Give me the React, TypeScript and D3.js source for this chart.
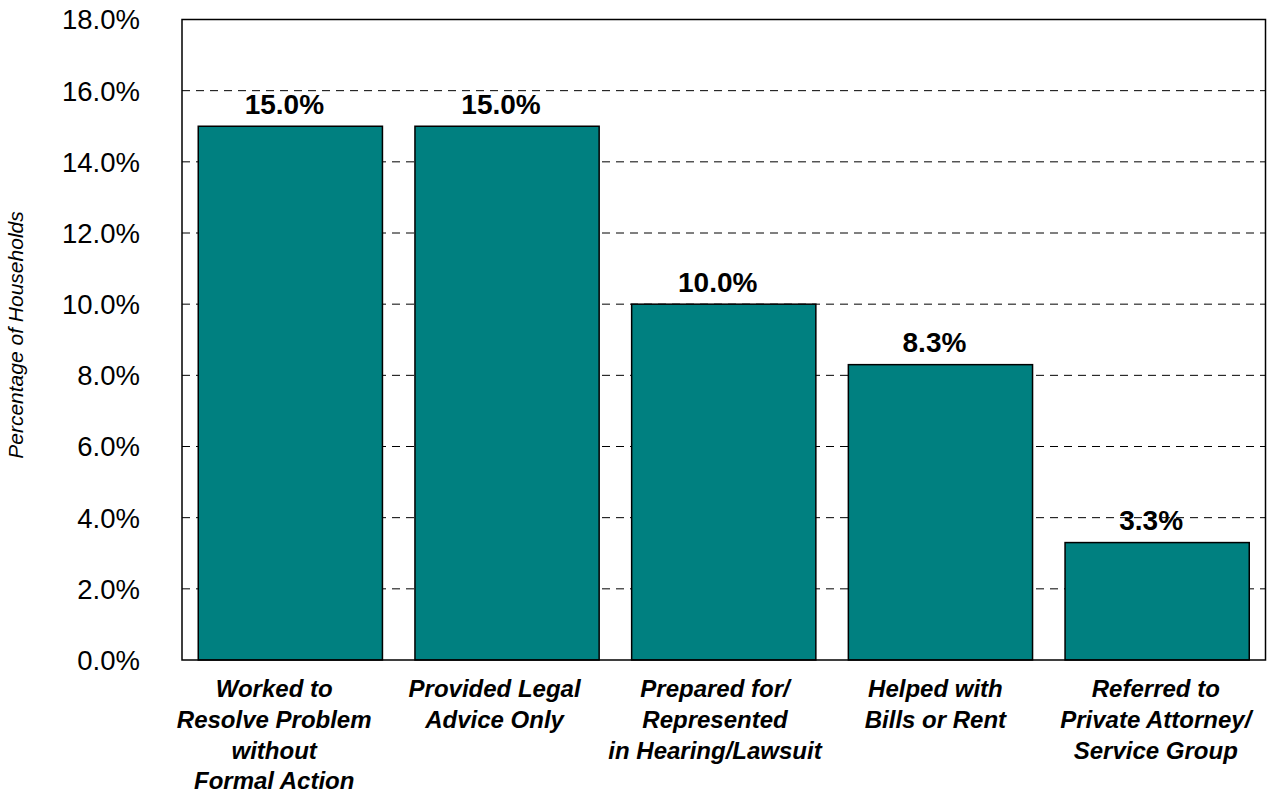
import React from "react";
import * as d3 from "d3";

const categories: string[][] = [
  ["Worked to", "Resolve Problem", "without", "Formal Action"],
  ["Provided Legal", "Advice Only"],
  ["Prepared for/", "Represented", "in Hearing/Lawsuit"],
  ["Helped with", "Bills or Rent"],
  ["Referred to", "Private Attorney/", "Service Group"],
];
const values: number[] = [15.0, 15.0, 10.0, 8.3, 3.3];
const yTicks: number[] = [0, 2, 4, 6, 8, 10, 12, 14, 16, 18];

const W = 1272;
const H = 794;
const m = { left: 182, top: 19.5, right: 1265.5, bottom: 660 };
const font = "'Liberation Sans', Arial, sans-serif";

export default function App() {
  const x = d3
    .scaleBand<number>()
    .domain(values.map((_, i) => i))
    .range([m.left, m.right])
    .paddingInner(0.15)
    .paddingOuter(0.075);
  const xl = d3
    .scaleBand<number>()
    .domain(values.map((_, i) => i))
    .range([164, 1266]);
  const y = d3.scaleLinear().domain([0, 18]).range([m.bottom, m.top]);

  return (
    <svg
      width={W}
      height={H}
      style={{ position: "absolute", left: 0, top: 0, background: "#fff" }}
    >
      {yTicks.slice(1, -1).map((t) => (
        <line
          key={"g" + t}
          x1={m.left}
          x2={m.right}
          y1={y(t)}
          y2={y(t)}
          stroke="#000"
          strokeWidth={1}
          strokeDasharray="8,6"
        />
      ))}
      {yTicks.map((t) => (
        <text
          key={"t" + t}
          x={140}
          y={y(t)}
          dy="0.36em"
          textAnchor="end"
          fontFamily={font}
          fontSize={27.5}
          fill="#000"
        >
          {t.toFixed(1) + "%"}
        </text>
      ))}
      {values.map((v, i) => (
        <g key={"b" + i}>
          <rect
            x={x(i)!}
            y={y(v)}
            width={x.bandwidth()}
            height={y(0) - y(v)}
            fill="#008080"
            stroke="#000"
            strokeWidth={1.5}
          />
          <text
            x={x(i)! + x.bandwidth() / 2}
            dx={-6}
            y={y(v) - 12.5}
            textAnchor="middle"
            fontFamily={font}
            fontSize={28}
            fontWeight="bold"
            fill="#000"
          >
            {v.toFixed(1) + "%"}
          </text>
          {categories[i].map((line, j) => (
            <text
              key={j}
              x={xl(i)! + xl.bandwidth() / 2}
              y={688.5 + j * 30.7}
              dy="0.36em"
              textAnchor="middle"
              fontFamily={font}
              fontSize={24}
              fontWeight="bold"
              fontStyle="italic"
              fill="#000"
            >
              {line}
            </text>
          ))}
        </g>
      ))}
      <rect
        x={m.left}
        y={m.top}
        width={m.right - m.left}
        height={m.bottom - m.top}
        fill="none"
        stroke="#000"
        strokeWidth={1.5}
      />
      <text
        transform={`translate(23,335) rotate(-90)`}
        textAnchor="middle"
        fontFamily={font}
        fontSize={21}
        fontStyle="italic"
        fill="#000"
      >
        Percentage of Households
      </text>
    </svg>
  );
}
